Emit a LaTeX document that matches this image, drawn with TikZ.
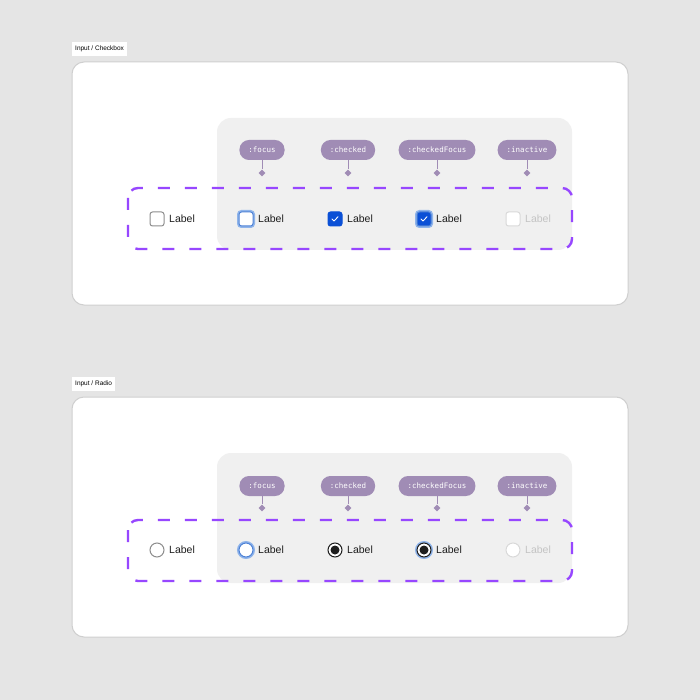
\documentclass[tikz,border=0pt]{standalone}
\usepackage{xcolor}
\usepackage{fontspec}
\setmainfont{Liberation Sans}
\setmonofont{DejaVu Sans Mono}
\usepackage{tikz}
\usetikzlibrary{positioning,shapes.geometric}

\definecolor{canvas}{HTML}{E5E5E5}
\definecolor{cardline}{HTML}{CFCFCF}
\definecolor{panelgray}{HTML}{F0F0F0}
\definecolor{groupline}{HTML}{9747FF}
\definecolor{tagfill}{HTML}{A08CB5}
\definecolor{boxline}{HTML}{8D8D8D}
\definecolor{checkblue}{HTML}{0B50D6}
\definecolor{focusblue}{HTML}{4E82D6}
\definecolor{focusring}{HTML}{8FB4EA}
\definecolor{inkdark}{HTML}{1E1E1E}
\definecolor{offline}{HTML}{D9D9D9}
\definecolor{offtext}{HTML}{C4C4C4}

\tikzset{
    card/.style={fill=white, draw=cardline, line width=1pt, rounded corners=12pt},
    panel/.style={fill=panelgray, rounded corners=14pt},
    group/.style={draw=groupline, line width=2.4pt, dash pattern=on 12pt off 15pt, rounded corners=10pt},
    frametitle/.style={fill=white, anchor=north west, inner xsep=3pt, inner ysep=0pt, minimum height=14pt, font=\fontsize{6.5}{7}\selectfont},
    tag/.style={fill=tagfill, text=white, rounded corners=9.5pt, minimum height=20pt, inner xsep=9pt, inner ysep=0pt, font=\ttfamily\fontsize{7.5}{9}\selectfont},
    pin/.style={diamond, fill=tagfill, inner sep=0pt, minimum size=7pt},
    stem/.style={draw=tagfill, line width=1pt},
    box/.style={rectangle, minimum size=14pt, inner sep=0pt, rounded corners=2.5pt, line width=1pt, fill=white},
    dot/.style={circle, minimum size=14pt, inner sep=0pt, line width=1pt, fill=white},
    ring/.style={preaction={draw=focusring, line width=4pt}},
    txt/.style={anchor=west, inner sep=0pt, text=inkdark, font=\fontsize{10.5}{12}\selectfont},
    tick/.style={draw=white, line width=0.9pt, line cap=round, line join=round}
}

\begin{document}
\begin{tikzpicture}[x=1pt, y=-1pt]

    % Background
    \fill[canvas] (0, 0) rectangle (700, 700);
    \useasboundingbox (0, 0) rectangle (700, 700);

    % Checkbox frame
    \node[frametitle] (cbtitle) at (72, 42) {Input / Checkbox};
    \draw[card] (72, 62) rectangle (628, 305);
    \fill[panel] (217, 118) rectangle (572, 250);

    % Checkbox tags
    \node[tag] (cbfocus) at (262, 150) {:focus};
    \node[tag] (cbchecked) at (348, 150) {:checked};
    \node[tag] (cbcheckedfocus) at (437, 150) {:checkedFocus};
    \node[tag] (cbinactive) at (527, 150) {:inactive};
    \node[pin] (cbpina) at (262, 173) {};
    \node[pin] (cbpinb) at (348, 173) {};
    \node[pin] (cbpinc) at (437, 173) {};
    \node[pin] (cbpind) at (527, 173) {};
    \draw[stem] (cbfocus) -- (cbpina);
    \draw[stem] (cbchecked) -- (cbpinb);
    \draw[stem] (cbcheckedfocus) -- (cbpinc);
    \draw[stem] (cbinactive) -- (cbpind);

    % Checkbox states
    \node[box, draw=boxline] (cbdefault) at (157, 219) {};
    \node[txt] (cbdefaultlabel) at (169, 219) {Label};
    \node[box, ring, draw=focusblue] (cbfocusbox) at (246, 219) {};
    \node[txt] (cbfocuslabel) at (258, 219) {Label};
    \node[box, draw=checkblue, fill=checkblue] (cbcheckedbox) at (335, 219) {};
    \node[txt] (cbcheckedlabel) at (347, 219) {Label};
    \node[box, ring, draw=focusblue, fill=checkblue] (cbcheckedfocusbox) at (424, 219) {};
    \node[txt] (cbcheckedfocuslabel) at (436, 219) {Label};
    \node[box, draw=offline] (cbinactivebox) at (513, 219) {};
    \node[txt, text=offtext] (cbinactivelabel) at (525, 219) {Label};
    \draw[tick] ([xshift=-3pt]cbcheckedbox.center) -- ([xshift=-1pt, yshift=-2pt]cbcheckedbox.center) -- ([xshift=3pt, yshift=2.2pt]cbcheckedbox.center);
    \draw[tick] ([xshift=-3pt]cbcheckedfocusbox.center) -- ([xshift=-1pt, yshift=-2pt]cbcheckedfocusbox.center) -- ([xshift=3pt, yshift=2.2pt]cbcheckedfocusbox.center);

    % Checkbox group
    \draw[group] (128, 188) rectangle (572, 249);

    % Radio frame
    \node[frametitle] (rdtitle) at (72, 377) {Input / Radio};
    \draw[card] (72, 397) rectangle (628, 637);
    \fill[panel] (217, 453) rectangle (572, 583);

    % Radio tags
    \node[tag] (rdfocus) at (262, 486) {:focus};
    \node[tag] (rdchecked) at (348, 486) {:checked};
    \node[tag] (rdcheckedfocus) at (437, 486) {:checkedFocus};
    \node[tag] (rdinactive) at (527, 486) {:inactive};
    \node[pin] (rdpina) at (262, 508) {};
    \node[pin] (rdpinb) at (348, 508) {};
    \node[pin] (rdpinc) at (437, 508) {};
    \node[pin] (rdpind) at (527, 508) {};
    \draw[stem] (rdfocus) -- (rdpina);
    \draw[stem] (rdchecked) -- (rdpinb);
    \draw[stem] (rdcheckedfocus) -- (rdpinc);
    \draw[stem] (rdinactive) -- (rdpind);

    % Radio states
    \node[dot, draw=boxline] (rddefault) at (157, 550) {};
    \node[txt] (rddefaultlabel) at (169, 550) {Label};
    \node[dot, ring, draw=focusblue] (rdfocusdot) at (246, 550) {};
    \node[txt] (rdfocuslabel) at (258, 550) {Label};
    \node[dot, draw=inkdark] (rdcheckeddot) at (335, 550) {};
    \node[txt] (rdcheckedlabel) at (347, 550) {Label};
    \node[dot, ring, draw=inkdark] (rdcheckedfocusdot) at (424, 550) {};
    \node[txt] (rdcheckedfocuslabel) at (436, 550) {Label};
    \node[dot, draw=offline] (rdinactivedot) at (513, 550) {};
    \node[txt, text=offtext] (rdinactivelabel) at (525, 550) {Label};
    \fill[inkdark] (rdcheckeddot.center) circle (4.5);
    \fill[inkdark] (rdcheckedfocusdot.center) circle (4.5);

    % Radio group
    \draw[group] (128, 520) rectangle (572, 581);

\end{tikzpicture}
\end{document}
